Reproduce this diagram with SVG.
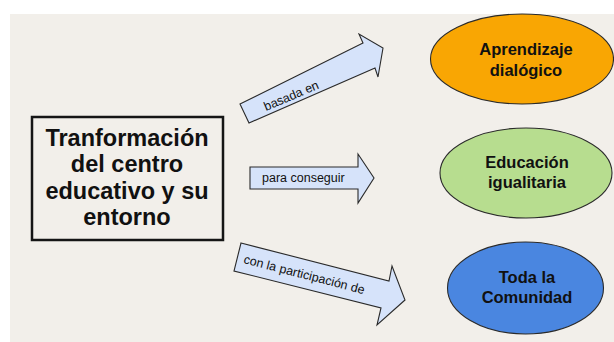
<svg xmlns="http://www.w3.org/2000/svg" width="614" height="342" viewBox="0 0 614 342">
<style>
  .lbl{font-family:"Liberation Sans",Arial,sans-serif;font-size:12.5px;fill:#111}
  .node{font-family:"Liberation Sans",Arial,sans-serif;font-weight:bold;font-size:16.5px;fill:#111;text-anchor:middle}
  .main{font-family:"Liberation Sans",Arial,sans-serif;font-weight:bold;font-size:23.5px;fill:#111;text-anchor:middle}
  .arrow{fill:#D6E3FA;stroke:#2a2a2a;stroke-width:1.1;stroke-linejoin:miter}
  .ell{stroke:#2a2a2a;stroke-width:1.1}
</style>
<rect x="0" y="0" width="614" height="342" fill="#ffffff"/>
<rect x="10" y="14" width="604" height="328" fill="#F2EFEA"/>

<g id="main">
  <rect x="32" y="117" width="191" height="123" fill="none" stroke="#151515" stroke-width="2.5"/>
  <text class="main" x="127" y="146">Tranformación</text>
  <text class="main" x="127" y="172">del centro</text>
  <text class="main" x="127" y="199">educativo y su</text>
  <text class="main" x="127" y="225">entorno</text>
</g>

<g id="connectors">
  <g id="arrow-basada">
    <polygon class="arrow" points="240,104 363,43 359,34 383,48 378,77 375,68 249,123"/>
    <text class="lbl" x="0" y="0" font-size="13" transform="translate(266,111) rotate(-23)">basada en</text>
  </g>
  <g id="arrow-para">
    <polygon class="arrow" points="250,167 358,167 358,154 374,178 358,203 358,189 250,189"/>
    <text class="lbl" x="262" y="182">para conseguir</text>
  </g>
  <g id="arrow-con">
    <polygon class="arrow" points="241,243 389,281 392,266 405,300 377,325 381,308 234,271"/>
    <text class="lbl" x="0" y="0" transform="translate(243,263) rotate(14.5)">con la participación de</text>
  </g>
</g>

<g id="aprendizaje">
  <ellipse class="ell" cx="522" cy="59" rx="91.5" ry="45" fill="#F9A603"/>
  <text class="node" x="526" y="55">Aprendizaje</text>
  <text class="node" x="526" y="76">dialógico</text>
</g>

<g id="educacion">
  <ellipse class="ell" cx="526" cy="173" rx="86" ry="45" fill="#B7DD8F"/>
  <text class="node" x="527" y="167.5">Educación</text>
  <text class="node" x="527" y="188">igualitaria</text>
</g>

<g id="comunidad">
  <ellipse class="ell" cx="525.5" cy="288" rx="78" ry="46" fill="#4A86E0"/>
  <text class="node" x="527" y="283">Toda la</text>
  <text class="node" x="527" y="303">Comunidad</text>
</g>
</svg>
